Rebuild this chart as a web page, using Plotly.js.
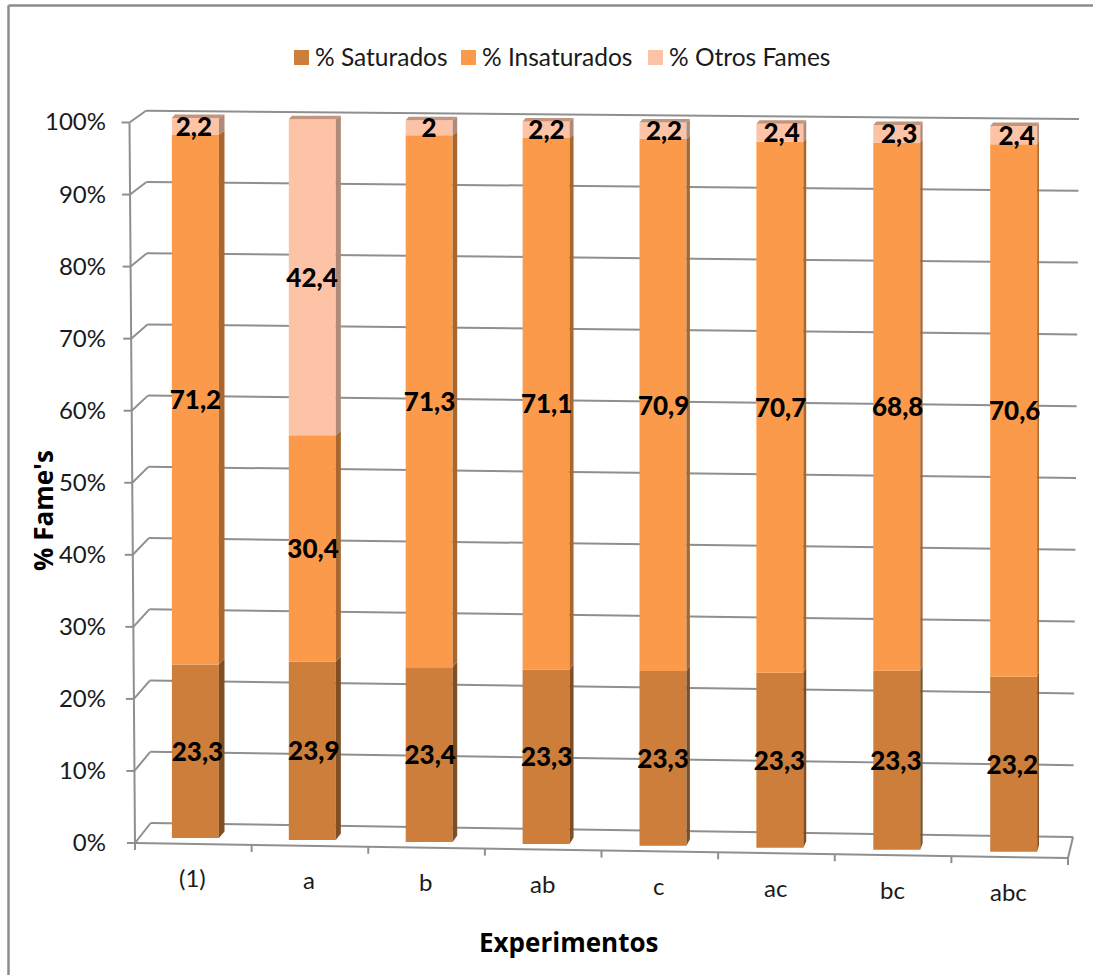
<!DOCTYPE html>
<html>
<head>
<meta charset="utf-8">
<script src="https://cdn.plot.ly/plotly-3.0.1.min.js"></script>
<style>html,body{margin:0;padding:0;background:#fff}#chart{width:1093px;height:975px}</style>
</head>
<body>
<div id="chart"></div>
<script>
const experiments = ['(1)', 'a', 'b', 'ab', 'c', 'ac', 'bc', 'abc'];
const saturados   = [23.3, 23.9, 23.4, 23.3, 23.3, 23.3, 23.3, 23.2];
const insaturados = [71.2, 30.4, 71.3, 71.1, 70.9, 70.7, 68.8, 70.6];
const otrosFames  = [2.2, 42.4, 2, 2.2, 2.2, 2.4, 2.3, 2.4];
const percentTicks = [0, 10, 20, 30, 40, 50, 60, 70, 80, 90, 100];

const seriesNames = ['% Saturados', '% Insaturados', '% Otros Fames'];
const seriesValues = [saturados, insaturados, otrosFames];
const frontColors = ['#CC7E3A', '#FA9A4A', '#FDC3A7'];
const sideColors  = ['#7F4E24', '#A9672F', '#AE8A78'];
const topColor = '#C2957F';
const gridColor = '#8F8F8F';
const textColor = '#1a1a1a';

// Page size and plot rectangle, in pixels
const W = 1093, H = 975;
const plot = {l: 110, r: 1085, t: 100, b: 920};

// Axis scales: one category step and one percent point, in pixels
const catStep = 116.9, pctStep = 7.21;
const X = px => (px - 195.4) / catStep;
const Y = py => (843 - py) / pctStep;
const paperX = px => (px - plot.l) / (plot.r - plot.l);
const paperY = py => (plot.b - py) / (plot.b - plot.t);

// The oblique view: bars sink and grow slightly from left to right
const barWidth = 47 / catStep;
const sink = i => (5 - 1.96 * i) / pctStep;
const grow = i => (720 + 0.81 * i) / 721;
const lean = i => (-4 + 9 * i / 7) / catStep;
const sideDepth = i => (5.6 - 0.55 * i) / catStep;
const riseAt = v => (6.5 - 3 * v / 100) / pctStep;

const totals = experiments.map((_, i) => seriesValues.reduce((s, arr) => s + arr[i], 0));
const spans = seriesValues.map(() => []);
experiments.forEach((_, i) => {
  let cum = 0;
  seriesValues.forEach((arr, s) => {
    const share = arr[i] / totals[i] * 100;
    spans[s].push({from: cum, to: cum + share});
    cum += share;
  });
});

// Front faces of the stacked bars
const barTraces = seriesNames.map((name, s) => ({
  type: 'bar',
  name,
  x: experiments.map((_, i) => i),
  y: spans[s].map((sp, i) => (sp.to - sp.from) * grow(i)),
  base: spans[s].map((sp, i) => sp.from * grow(i) + sink(i)),
  width: barWidth,
  marker: {color: frontColors[s], line: {width: 0}},
  showlegend: false,
  hoverinfo: 'skip'
}));

// Right-hand side faces of the bars
const sideTraces = seriesNames.map((name, s) => {
  const xs = [], ys = [];
  experiments.forEach((_, i) => {
    const sp = spans[s][i];
    const xr = i + barWidth / 2, dx = sideDepth(i);
    const y0 = sp.from * grow(i) + sink(i), y1 = sp.to * grow(i) + sink(i);
    xs.push(xr, xr + dx, xr + dx, xr, xr, null);
    ys.push(y0, y0 + riseAt(sp.from), y1 + riseAt(sp.to), y1, y0, null);
  });
  return {type: 'scatter', mode: 'lines', x: xs, y: ys, fill: 'toself', fillcolor: sideColors[s],
          line: {width: 0}, showlegend: false, hoverinfo: 'skip'};
});

// Top faces of the bars
const topTrace = (() => {
  const xs = [], ys = [];
  experiments.forEach((_, i) => {
    const xl = i - barWidth / 2, xr = i + barWidth / 2, dx = sideDepth(i);
    const y1 = 100 * grow(i) + sink(i), d = riseAt(100);
    xs.push(xl, xl + 3 / catStep, xr + dx, xr, xl, null);
    ys.push(y1, y1 + d, y1 + d, y1, y1, null);
  });
  return {type: 'scatter', mode: 'lines', x: xs, y: ys, fill: 'toself', fillcolor: topColor,
          line: {width: 0}, showlegend: false, hoverinfo: 'skip'};
})();

// Value labels, centred on each segment and written with a decimal comma
const labelDrop = 3 / pctStep;
const labelTraces = seriesNames.map((name, s) => ({
  type: 'scatter',
  mode: 'text',
  x: spans[s].map((sp, i) => i + lean(i) * ((sp.from + sp.to) / 200 - 0.5) + 0.5 / catStep),
  y: spans[s].map((sp, i) => (sp.from + sp.to) / 2 * grow(i) + sink(i) - labelDrop),
  text: seriesValues[s].map(v => String(v).replace('.', ',')),
  textposition: 'middle center',
  textfont: {family: 'Lato, sans-serif', size: 26, color: '#000', weight: 900},
  showlegend: false,
  hoverinfo: 'skip',
  cliponaxis: false
}));

// Walls, floor and tick marks of the oblique frame
const lerp = (a, b, t) => a + (b - a) * t;
const line = (x0, y0, x1, y1, w) => ({
  type: 'line', layer: 'below', xref: 'x', yref: 'y',
  x0: X(x0), y0: Y(y0), x1: X(x1), y1: Y(y1),
  line: {color: gridColor, width: w || 2}
});
const shapes = [];
percentTicks.forEach(v => {
  const t = v / 100;
  const fx = lerp(135, 129.5, t), fy = lerp(843, 122.5, t);
  const bx = lerp(150.7, 146, t), by = lerp(823, 110.7, t);
  const rx = lerp(1073, 1079, t), ry = lerp(837, 119, t);
  shapes.push(line(fx, fy, bx, by), line(bx, by, rx, ry), line(fx - 8, fy, fx, fy));
});
shapes.push(line(135, 843, 129.5, 122.5));
shapes.push(line(135, 843, 1068, 858));
shapes.push(line(1068, 858, 1073, 837));
for (let k = 0; k <= experiments.length; k++) {
  const t = k / experiments.length;
  const x = lerp(135, 1068, t), y = lerp(843, 858, t);
  shapes.push(line(x, y, x, y + 7));
}

// Outer frame of the chart
[[8.5, 5.5, 8.5, 975], [8.5, 5.5, 1093, 5.5]].forEach(([a, b, c, d]) => {
  shapes.push({type: 'line', layer: 'below', xref: 'paper', yref: 'paper',
    x0: paperX(a), y0: paperY(b), x1: paperX(c), y1: paperY(d),
    line: {color: '#8C8C8C', width: 2.5}});
});

// Category names follow the sloping floor
const annotations = experiments.map((name, i) => ({
  xref: 'x', yref: 'y', x: X(192.5 + 116.6 * i), y: Y(877.5 + 2.05 * i),
  text: name, showarrow: false, xanchor: 'center', yanchor: 'middle',
  font: {family: 'Lato, sans-serif', size: 24, color: textColor}
}));

// Axis titles
const titleFont = {family: '"Open Sans", sans-serif', size: 26, color: '#000', weight: 700};
annotations.push({
  xref: 'paper', yref: 'paper', x: paperX(568), y: paperY(942),
  text: 'Experimentos', showarrow: false, xanchor: 'center', yanchor: 'middle', font: titleFont
});
annotations.push({
  xref: 'paper', yref: 'paper', x: paperX(43), y: paperY(511), textangle: -90,
  text: "% Fame's", showarrow: false, xanchor: 'center', yanchor: 'middle', font: titleFont
});

// Legend row: a square swatch and its series name
const legendSwatchX = [294, 461, 648];
seriesNames.forEach((name, s) => {
  shapes.push({type: 'rect', layer: 'below', xref: 'paper', yref: 'paper',
    x0: paperX(legendSwatchX[s]), x1: paperX(legendSwatchX[s] + 15),
    y0: paperY(50), y1: paperY(65), fillcolor: frontColors[s], line: {width: 0}});
  annotations.push({xref: 'paper', yref: 'paper', x: paperX(legendSwatchX[s] + 19), y: paperY(57),
    text: name, showarrow: false, xanchor: 'left', yanchor: 'middle',
    font: {family: 'Lato, sans-serif', size: 24.5, color: textColor}});
});

const layout = {
  width: W, height: H,
  margin: {l: plot.l, r: W - plot.r, t: plot.t, b: H - plot.b, pad: 0},
  paper_bgcolor: '#fff', plot_bgcolor: 'rgba(0,0,0,0)',
  barmode: 'overlay',
  showlegend: false,
  xaxis: {type: 'linear', range: [X(plot.l), X(plot.r)], showgrid: false, zeroline: false,
          showline: false, ticks: '', showticklabels: false},
  yaxis: {type: 'linear', range: [Y(plot.b), Y(plot.t)], showgrid: false, zeroline: false,
          showline: false, ticks: '', tickmode: 'array', tickvals: percentTicks,
          ticktext: percentTicks.map(v => v + '%'), ticklabelstandoff: 3,
          tickfont: {family: 'Lato, sans-serif', size: 24, color: textColor}},
  shapes,
  annotations
};

Plotly.newPlot('chart', [...barTraces, ...sideTraces, topTrace, ...labelTraces], layout,
  {displayModeBar: false, staticPlot: true});
</script>
</body>
</html>
